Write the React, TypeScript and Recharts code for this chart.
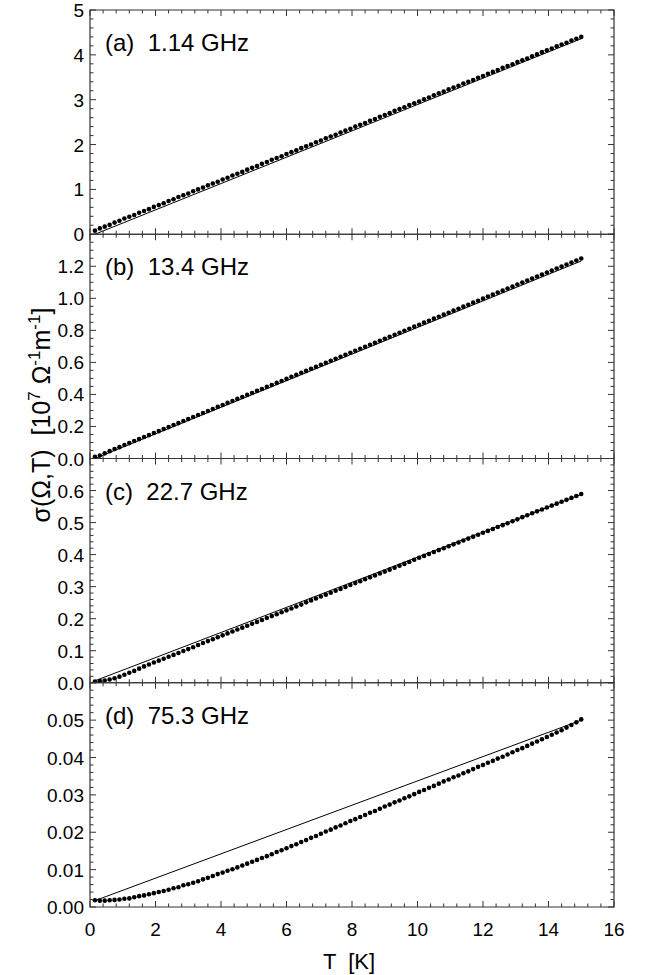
import React from "react"
import { ComposedChart, Line, XAxis, YAxis, ReferenceArea } from "recharts"

// temperature grid of the measured points [K]
const temps = [
  0.15, 0.3, 0.45, 0.6, 0.75, 0.9, 1.05, 1.2, 1.35, 1.5,
  1.65, 1.8, 1.95, 2.1, 2.25, 2.4, 2.55, 2.7, 2.85, 3,
  3.15, 3.3, 3.45, 3.6, 3.75, 3.9, 4.05, 4.2, 4.35, 4.5,
  4.65, 4.8, 4.95, 5.1, 5.25, 5.4, 5.55, 5.7, 5.85, 6,
  6.15, 6.3, 6.45, 6.6, 6.75, 6.9, 7.05, 7.2, 7.35, 7.5,
  7.65, 7.8, 7.95, 8.1, 8.25, 8.4, 8.55, 8.7, 8.85, 9,
  9.15, 9.3, 9.45, 9.6, 9.75, 9.9, 10.05, 10.2, 10.35, 10.5,
  10.65, 10.8, 10.95, 11.1, 11.25, 11.4, 11.55, 11.7, 11.85, 12,
  12.15, 12.3, 12.45, 12.6, 12.75, 12.9, 13.05, 13.2, 13.35, 13.5,
  13.65, 13.8, 13.95, 14.1, 14.25, 14.4, 14.55, 14.7, 14.85, 15,
]

const sigmaA = [
  0.08, 0.13, 0.17, 0.21, 0.26, 0.30, 0.35, 0.39, 0.43, 0.48,
  0.52, 0.56, 0.61, 0.65, 0.69, 0.74, 0.78, 0.83, 0.87, 0.91,
  0.96, 1.00, 1.04, 1.09, 1.13, 1.17, 1.22, 1.26, 1.31, 1.35,
  1.39, 1.44, 1.48, 1.52, 1.57, 1.61, 1.66, 1.70, 1.74, 1.79,
  1.83, 1.87, 1.92, 1.96, 2.00, 2.05, 2.09, 2.14, 2.18, 2.22,
  2.27, 2.31, 2.35, 2.40, 2.44, 2.48, 2.53, 2.57, 2.62, 2.66,
  2.70, 2.75, 2.79, 2.83, 2.88, 2.92, 2.96, 3.01, 3.05, 3.10,
  3.14, 3.18, 3.23, 3.27, 3.31, 3.36, 3.40, 3.44, 3.49, 3.53,
  3.58, 3.62, 3.66, 3.71, 3.75, 3.79, 3.84, 3.88, 3.92, 3.97,
  4.01, 4.06, 4.10, 4.14, 4.19, 4.23, 4.27, 4.32, 4.36, 4.40,
]

const sigmaB = [
  0.010, 0.018, 0.032, 0.046, 0.059, 0.071, 0.084, 0.096, 0.109, 0.121,
  0.134, 0.146, 0.159, 0.171, 0.184, 0.196, 0.209, 0.221, 0.234, 0.247,
  0.259, 0.272, 0.284, 0.297, 0.309, 0.322, 0.334, 0.347, 0.359, 0.372,
  0.384, 0.397, 0.409, 0.422, 0.434, 0.447, 0.459, 0.472, 0.484, 0.497,
  0.510, 0.522, 0.535, 0.547, 0.560, 0.572, 0.585, 0.597, 0.610, 0.622,
  0.635, 0.647, 0.660, 0.672, 0.685, 0.697, 0.710, 0.722, 0.735, 0.748,
  0.760, 0.773, 0.785, 0.798, 0.810, 0.823, 0.835, 0.848, 0.860, 0.873,
  0.885, 0.898, 0.910, 0.923, 0.935, 0.948, 0.960, 0.973, 0.985, 0.998,
  1.011, 1.023, 1.036, 1.048, 1.061, 1.073, 1.086, 1.098, 1.111, 1.123,
  1.136, 1.148, 1.161, 1.173, 1.186, 1.198, 1.211, 1.223, 1.236, 1.249,
]

const sigmaC = [
  0.004, 0.005, 0.007, 0.010, 0.014, 0.019, 0.025, 0.031, 0.037, 0.044,
  0.051, 0.057, 0.063, 0.069, 0.075, 0.081, 0.087, 0.093, 0.099, 0.105,
  0.111, 0.118, 0.124, 0.130, 0.136, 0.142, 0.148, 0.154, 0.160, 0.166,
  0.172, 0.178, 0.184, 0.190, 0.196, 0.202, 0.208, 0.214, 0.220, 0.226,
  0.232, 0.238, 0.244, 0.251, 0.257, 0.263, 0.269, 0.275, 0.281, 0.287,
  0.293, 0.299, 0.305, 0.311, 0.317, 0.323, 0.329, 0.335, 0.341, 0.347,
  0.353, 0.359, 0.365, 0.371, 0.377, 0.384, 0.390, 0.396, 0.402, 0.408,
  0.414, 0.420, 0.426, 0.432, 0.438, 0.444, 0.450, 0.456, 0.462, 0.468,
  0.474, 0.480, 0.486, 0.492, 0.498, 0.504, 0.510, 0.517, 0.523, 0.529,
  0.535, 0.541, 0.547, 0.553, 0.559, 0.565, 0.571, 0.577, 0.583, 0.589,
]

const sigmaD = [
  0.0018, 0.0017, 0.0017, 0.0018, 0.0019, 0.0020, 0.0022, 0.0023, 0.0026, 0.0029,
  0.0031, 0.0034, 0.0037, 0.0040, 0.0043, 0.0046, 0.0050, 0.0053, 0.0058, 0.0061,
  0.0065, 0.0069, 0.0074, 0.0078, 0.0083, 0.0088, 0.0092, 0.0097, 0.0101, 0.0106,
  0.0111, 0.0116, 0.0121, 0.0126, 0.0131, 0.0136, 0.0141, 0.0147, 0.0152, 0.0157,
  0.0163, 0.0168, 0.0174, 0.0179, 0.0185, 0.0190, 0.0196, 0.0202, 0.0207, 0.0213,
  0.0218, 0.0224, 0.0230, 0.0235, 0.0241, 0.0246, 0.0252, 0.0257, 0.0263, 0.0269,
  0.0274, 0.0280, 0.0285, 0.0291, 0.0296, 0.0302, 0.0308, 0.0313, 0.0319, 0.0324,
  0.0330, 0.0336, 0.0341, 0.0347, 0.0352, 0.0358, 0.0363, 0.0369, 0.0375, 0.0380,
  0.0386, 0.0391, 0.0397, 0.0402, 0.0408, 0.0414, 0.0420, 0.0425, 0.0431, 0.0437,
  0.0443, 0.0449, 0.0455, 0.0461, 0.0467, 0.0473, 0.0480, 0.0487, 0.0494, 0.0502,
]

// straight fit lines: end points
const fitT = [0.15, 15]
const fitA = [0.0, 4.36]
const fitB = [0.0, 1.233]
const fitC = [0.006, 0.588]
const fitD = [0.0017, 0.05]

const xTicks = [
  0, 0.4, 0.8, 1.2, 1.6, 2, 2.4, 2.8, 3.2, 3.6, 4, 4.4, 4.8, 5.2, 5.6, 6,
  6.4, 6.8, 7.2, 7.6, 8, 8.4, 8.8, 9.2, 9.6, 10, 10.4, 10.8, 11.2, 11.6, 12,
  12.4, 12.8, 13.2, 13.6, 14, 14.4, 14.8, 15.2, 15.6, 16,
]
const xMajor = [0, 2, 4, 6, 8, 10, 12, 14, 16]

const yTicksA = [0, 0.2, 0.4, 0.6, 0.8, 1, 1.2, 1.4, 1.6, 1.8, 2, 2.2, 2.4, 2.6, 2.8, 3, 3.2, 3.4, 3.6, 3.8, 4, 4.2, 4.4, 4.6, 4.8, 5]
const yMajorA = [0, 1, 2, 3, 4, 5]
const yTicksB = [0, 0.05, 0.1, 0.15, 0.2, 0.25, 0.3, 0.35, 0.4, 0.45, 0.5, 0.55, 0.6, 0.65, 0.7, 0.75, 0.8, 0.85, 0.9, 0.95, 1, 1.05, 1.1, 1.15, 1.2, 1.25, 1.3, 1.35, 1.4]
const yMajorB = [0, 0.2, 0.4, 0.6, 0.8, 1, 1.2]
const yTicksC = [0, 0.02, 0.04, 0.06, 0.08, 0.1, 0.12, 0.14, 0.16, 0.18, 0.2, 0.22, 0.24, 0.26, 0.28, 0.3, 0.32, 0.34, 0.36, 0.38, 0.4, 0.42, 0.44, 0.46, 0.48, 0.5, 0.52, 0.54, 0.56, 0.58, 0.6, 0.62, 0.64, 0.66, 0.68, 0.7]
const yMajorC = [0, 0.1, 0.2, 0.3, 0.4, 0.5, 0.6]
const yTicksD = [0, 0.002, 0.004, 0.006, 0.008, 0.01, 0.012, 0.014, 0.016, 0.018, 0.02, 0.022, 0.024, 0.026, 0.028, 0.03, 0.032, 0.034, 0.036, 0.038, 0.04, 0.042, 0.044, 0.046, 0.048, 0.05, 0.052, 0.054, 0.056, 0.058, 0.06]
const yMajorD = [0, 0.01, 0.02, 0.03, 0.04, 0.05]

const W = 646
const H = 975
const LEFT = 90
const RIGHT = 614
const TOP = 10
const PANEL_H = 224.25
const FONT = "'Liberation Sans', Arial, Helvetica, sans-serif"
const FRAME = "#333"
const TICK_FONT = 19

const isIn = (list: number[], v: number) => list.some((m) => Math.abs(m - v) < 1e-9)

const panels = [
  { title: "(a)  1.14 GHz", vals: sigmaA, fit: fitA, domain: [0, 5], ticks: yTicksA, major: yMajorA, digits: 0 },
  { title: "(b)  13.4 GHz", vals: sigmaB, fit: fitB, domain: [0, 1.4], ticks: yTicksB, major: yMajorB, digits: 1 },
  { title: "(c)  22.7 GHz", vals: sigmaC, fit: fitC, domain: [0, 0.7], ticks: yTicksC, major: yMajorC, digits: 1 },
  { title: "(d)  75.3 GHz", vals: sigmaD, fit: fitD, domain: [0, 0.06], ticks: yTicksD, major: yMajorD, digits: 2 },
]

function Panel({ idx }: { idx: number }) {
  const p = panels[idx]
  const top = TOP + idx * PANEL_H
  const bottom = top + PANEL_H
  const last = idx === panels.length - 1
  const dots = temps.map((t, i) => ({ t, v: p.vals[i] }))
  const fit = fitT.map((t, i) => ({ t, v: p.fit[i] }))

  const xTick = (props: any) => {
    const { x, payload } = props
    const big = isIn(xMajor, payload.value)
    const len = big ? 6 : 3.5
    return (
      <g>
        <line x1={x} x2={x} y1={bottom} y2={bottom - len} stroke={FRAME} strokeWidth={1} />
        <line x1={x} x2={x} y1={top} y2={top + len} stroke={FRAME} strokeWidth={1} />
        {last && big && (
          <text x={x} y={bottom + 29} textAnchor="middle" fontSize={TICK_FONT} fontFamily={FONT} fill="#000">
            {payload.value}
          </text>
        )}
      </g>
    )
  }

  const yTick = (props: any) => {
    const { y, payload } = props
    const big = isIn(p.major, payload.value) || Math.abs(payload.value - p.domain[1]) < 1e-9
    const len = big ? 6 : 3.5
    return (
      <g>
        <line x1={LEFT} x2={LEFT + len} y1={y} y2={y} stroke={FRAME} strokeWidth={1} />
        <line x1={RIGHT} x2={RIGHT - len} y1={y} y2={y} stroke={FRAME} strokeWidth={1} />
        {isIn(p.major, payload.value) && (
          <text x={LEFT - 6} y={y + 7} textAnchor="end" fontSize={TICK_FONT} fontFamily={FONT} fill="#000">
            {payload.value.toFixed(p.digits)}
          </text>
        )}
      </g>
    )
  }

  return (
    <div style={{ position: "absolute", left: 0, top: 0 }}>
      <ComposedChart
        width={W}
        height={H}
        margin={{ top, right: W - RIGHT, bottom: H - bottom - 30, left: 30 }}
      >
        <XAxis
          dataKey="t"
          type="number"
          domain={[0, 16]}
          ticks={xTicks}
          interval={0}
          height={30}
          tickLine={false}
          axisLine={false}
          tick={xTick}
          allowDataOverflow
        />
        <YAxis
          type="number"
          domain={p.domain}
          ticks={p.ticks}
          interval={0}
          width={60}
          tickLine={false}
          axisLine={false}
          tick={yTick}
          allowDataOverflow
        />
        <ReferenceArea x1={0} x2={16} y1={p.domain[0]} y2={p.domain[1]} fill="none" stroke={FRAME} strokeWidth={1.2} />
        <Line data={fit} dataKey="v" stroke="#000" strokeWidth={1} dot={false} isAnimationActive={false} />
        <Line
          data={dots}
          dataKey="v"
          stroke="none"
          dot={{ r: 2.3, fill: "#000", stroke: "none" }}
          isAnimationActive={false}
        />
      </ComposedChart>
    </div>
  )
}

export default function App() {
  return (
    <div style={{ position: "absolute", left: 0, top: 0, width: W, height: H, background: "#fff" }}>
      {panels.map((_, i) => (
        <Panel key={i} idx={i} />
      ))}
      <svg width={W} height={H} style={{ position: "absolute", left: 0, top: 0, pointerEvents: "none" }}>
        {panels.map((p, i) => (
          <text
            key={i}
            x={105}
            y={TOP + i * PANEL_H + 41}
            fontSize={24}
            fontFamily={FONT}
            fill="#000"
            style={{ whiteSpace: "pre" }}
          >
            {p.title}
          </text>
        ))}
        <text x={349} y={969} textAnchor="middle" fontSize={22} fontFamily={FONT} fill="#000" style={{ whiteSpace: "pre" }}>
          T  [K]
        </text>
        <text
          transform="translate(50,415) rotate(-90)"
          textAnchor="middle"
          fontSize={25}
          fontFamily={FONT}
          fill="#000"
          style={{ whiteSpace: "pre" }}
        >
          σ(Ω,T)  [10
          <tspan fontSize={17} dy={-10}>7</tspan>
          <tspan dy={10}> Ω</tspan>
          <tspan fontSize={17} dy={-10}>-1</tspan>
          <tspan dy={10}>m</tspan>
          <tspan fontSize={17} dy={-10}>-1</tspan>
          <tspan dy={10}>]</tspan>
        </text>
      </svg>
    </div>
  )
}
